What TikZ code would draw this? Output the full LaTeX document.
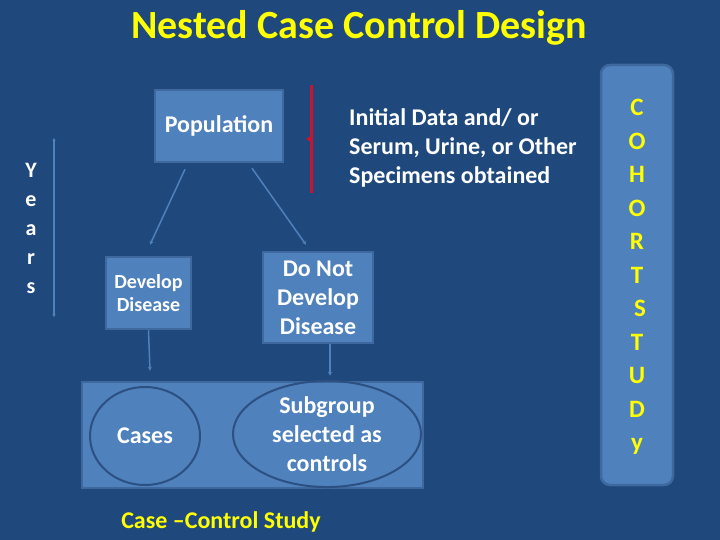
\documentclass[tikz,border=0pt]{standalone}
\usepackage{fontspec}
\setmainfont{Carlito}
\usetikzlibrary{arrows.meta,calc,shapes.geometric}
\definecolor{bgblue}{RGB}{31,73,125}
\definecolor{boxblue}{RGB}{79,129,189}
\definecolor{boxedge}{RGB}{62,104,158}
\definecolor{ringblue}{RGB}{44,80,130}
\definecolor{ttlyellow}{RGB}{255,255,0}
\definecolor{redline}{RGB}{205,18,45}
\newcommand{\myfs}[2]{\fontsize{#1}{#2}\selectfont\bfseries}
\tikzset{
  boxnode/.style={fill=boxblue, draw=boxedge, line width=2.5pt, inner sep=0pt, text=white, align=center},
  ring/.style={ellipse, draw=ringblue, line width=2pt, inner sep=0pt, text=white, align=center},
  conn/.style={draw=boxblue, line width=1.5pt, -{Stealth[length=4pt,width=4pt]}},
  ytext/.style={text=ttlyellow, inner sep=0pt},
  wtext/.style={text=white, inner sep=0pt},
}
\begin{document}
\begin{tikzpicture}[x=1pt,y=-1pt]
\fill[bgblue] (0,0) rectangle (720,540);
\useasboundingbox (0,0) rectangle (720,540);
% title
\node[ytext, font=\myfs{40}{44}] (title) at (359,28) {Nested Case Control Design};
% cohort study column
\node[boxnode, rounded corners=9pt, minimum width=72pt, minimum height=420pt] (cohort) at (637,275) {};
\node[ytext, align=center, font=\myfs{25}{33.5}] (cohorttxt) at (637,277) {C\\O\\H\\O\\R\\T\\\hspace*{6pt}S\\T\\U\\D\\y};
% years
\node[wtext, align=center, font=\myfs{22}{29}] (years) at (31,228) {Y\\e\\a\\r\\s};
\coordinate (ytop) at (54,138);
\coordinate (ybot) at (54,317);
\draw[draw=boxblue, line width=1.5pt, {Stealth[length=3pt,width=3pt]}-{Stealth[length=3pt,width=3pt]}] (ytop) -- (ybot);
% population
\node[boxnode, minimum width=128pt, minimum height=72pt, font=\myfs{24}{29}] (pop) at (219,126) {Population};
% red bracket
\coordinate (rtop) at (311,85);
\coordinate (rbot) at (311,193);
\draw[redline, line width=3pt] (rtop) -- (rbot);
\fill[redline] (311,136) -- (306,139) -- (311,142) -- cycle;
% initial data
\node[wtext, anchor=west, align=left, font=\myfs{24}{29}] (init) at (349,148) {Initial Data and/ or\\Serum, Urine, or Other\\Specimens obtained};
% develop disease
\node[boxnode, minimum width=85pt, minimum height=72pt, font=\myfs{20}{23}] (dev) at (148.5,293) {Develop\\Disease};
\node[boxnode, minimum width=110pt, minimum height=91pt, font=\myfs{24}{29}] (nodev) at (318,297.5) {Do Not\\Develop\\Disease};
% bottom study box
\node[boxnode, minimum width=341pt, minimum height=106pt] (study) at (252.5,435) {};
\node[ring, minimum width=110pt, minimum height=98pt, font=\myfs{24}{29}] (cases) at (145,436) {Cases};
\node[ring, minimum width=188pt, minimum height=92pt, font=\myfs{24}{29}] (controls) at (327,434) {Subgroup\\selected as\\controls};
\node[ytext, font=\myfs{24}{29}] (cclabel) at (221,522) {Case \textendash Control Study};
% connectors
\draw[conn] ($(pop.south)+(-34,6)$) -- ($(dev.north)+(1.5,-11)$);
\draw[conn] ($(pop.south)+(33,5)$) -- ($(nodev.north)+(-12,-6)$);
\draw[conn] (dev.south) -- ($(dev.south |- study.north)+(1.5,-10)$);
\draw[conn] ($(nodev.south)+(12,0)$) -- ($(nodev.south |- study.north)+(12,-5)$);
\end{tikzpicture}
\end{document}
